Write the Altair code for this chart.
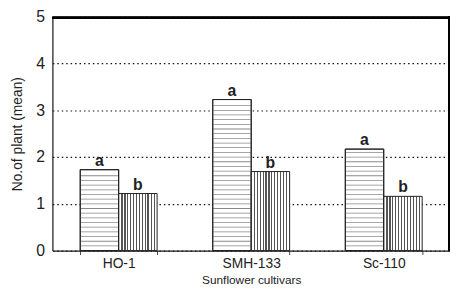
import altair as alt
import pandas as pd

cultivars = ["HO-1", "SMH-133", "Sc-110"]
series_a = [1.73, 3.23, 2.17]
series_b = [1.22, 1.69, 1.16]
groups = ["a", "b"]

rows = []
for c, va, vb in zip(cultivars, series_a, series_b):
    rows.append({"cultivar": c, "group": "a", "value": va})
    rows.append({"cultivar": c, "group": "b", "value": vb})
df = pd.DataFrame(rows)

stripe_levels = [round(0.1 * i, 2) for i in range(1, 50)]
hatch_rows = []
for c, va in zip(cultivars, series_a):
    for s in stripe_levels:
        if s < va - 0.03:
            hatch_rows.append({"cultivar": c, "group": "a", "level": s})
hatch = pd.DataFrame(hatch_rows)

stops = [{"offset": 0, "color": "white"}]
for p in [0.07, 0.15, 0.22, 0.30, 0.37, 0.45, 0.52, 0.60, 0.68, 0.75, 0.83, 0.91]:
    stops += [{"offset": p, "color": "white"}, {"offset": p, "color": "#555"},
              {"offset": p + 0.03, "color": "#555"}, {"offset": p + 0.03, "color": "white"}]
stops.append({"offset": 1, "color": "white"})
vgrad = alt.Gradient(gradient="linear", stops=stops, x1=0, y1=0, x2=1, y2=0)

W, H = 403, 237
xscale = alt.Scale(paddingInner=0.42, paddingOuter=0.21)
x = alt.X("cultivar:N", sort=cultivars, scale=xscale,
          axis=alt.Axis(title="Sunflower cultivars", labelAngle=0, labelFontSize=14,
                        labelColor="#222", titleFontSize=12, titleFontWeight="normal",
                        titleColor="#222", titlePadding=4, labelPadding=2,
                        tickBand="extent", tickSize=4, tickColor="#444",
                        domainColor="#222", domainWidth=1.2))
xo = alt.XOffset("group:N", sort=groups)
y = alt.Y("value:Q", scale=alt.Scale(domain=[0, 5]),
          axis=alt.Axis(title="No.of plant (mean)", values=[0, 1, 2, 3, 4, 5],
                        labelFontSize=16, labelColor="#222", titleFontSize=14,
                        titleFontWeight="normal", titleColor="#222", titlePadding=11,
                        tickSize=0, labelPadding=8, grid=True, gridDash=[1.5, 3],
                        gridColor="#111", gridWidth=1.2, domainColor="#222", domainWidth=1.2))

bars_a = alt.Chart(df).transform_filter("datum.group == 'a'").mark_bar(
    fill="white", stroke="#222", strokeWidth=1).encode(x=x, xOffset=xo, y=y)
bars_b = alt.Chart(df).transform_filter("datum.group == 'b'").mark_bar(
    fill=vgrad, stroke="#222", strokeWidth=1).encode(x=x, xOffset=xo, y=y)
hlines = alt.Chart(hatch).mark_tick(color="#555", size=38, thickness=0.8).encode(
    x=alt.X("cultivar:N", sort=cultivars, scale=xscale),
    xOffset=alt.XOffset("group:N", sort=groups),
    y=alt.Y("level:Q"))
bars_a_outline = alt.Chart(df).transform_filter("datum.group == 'a'").mark_bar(
    fill=None, stroke="#222", strokeWidth=1).encode(x=x, xOffset=xo, y=y)
labels = alt.Chart(df).mark_text(dy=-9, fontSize=16, fontWeight="bold", color="#222").encode(
    x=x, xOffset=xo, y=y, text="group:N")
top_border = alt.Chart(df).mark_rule(color="#000000", strokeWidth=2).encode(
    x=alt.value(0), x2=alt.value(W), y=alt.value(1))
right_border = alt.Chart(df).mark_rule(color="#000000", strokeWidth=2).encode(
    x=alt.value(W - 1), y=alt.value(0), y2=alt.value(H))

chart = alt.layer(bars_a, bars_b, hlines, bars_a_outline, labels, top_border, right_border).properties(
    width=W, height=H, autosize=alt.AutoSizeParams(type="none"),
    padding={"left": 45, "top": 7, "right": 0, "bottom": 34}
).configure_view(stroke="#111", strokeWidth=1.5).configure_axis(
    labelFont="Liberation Sans", titleFont="Liberation Sans"
).configure_text(font="Liberation Sans").configure(background="white")

chart.save("out.html", embed_options={"renderer": "svg", "actions": False})
